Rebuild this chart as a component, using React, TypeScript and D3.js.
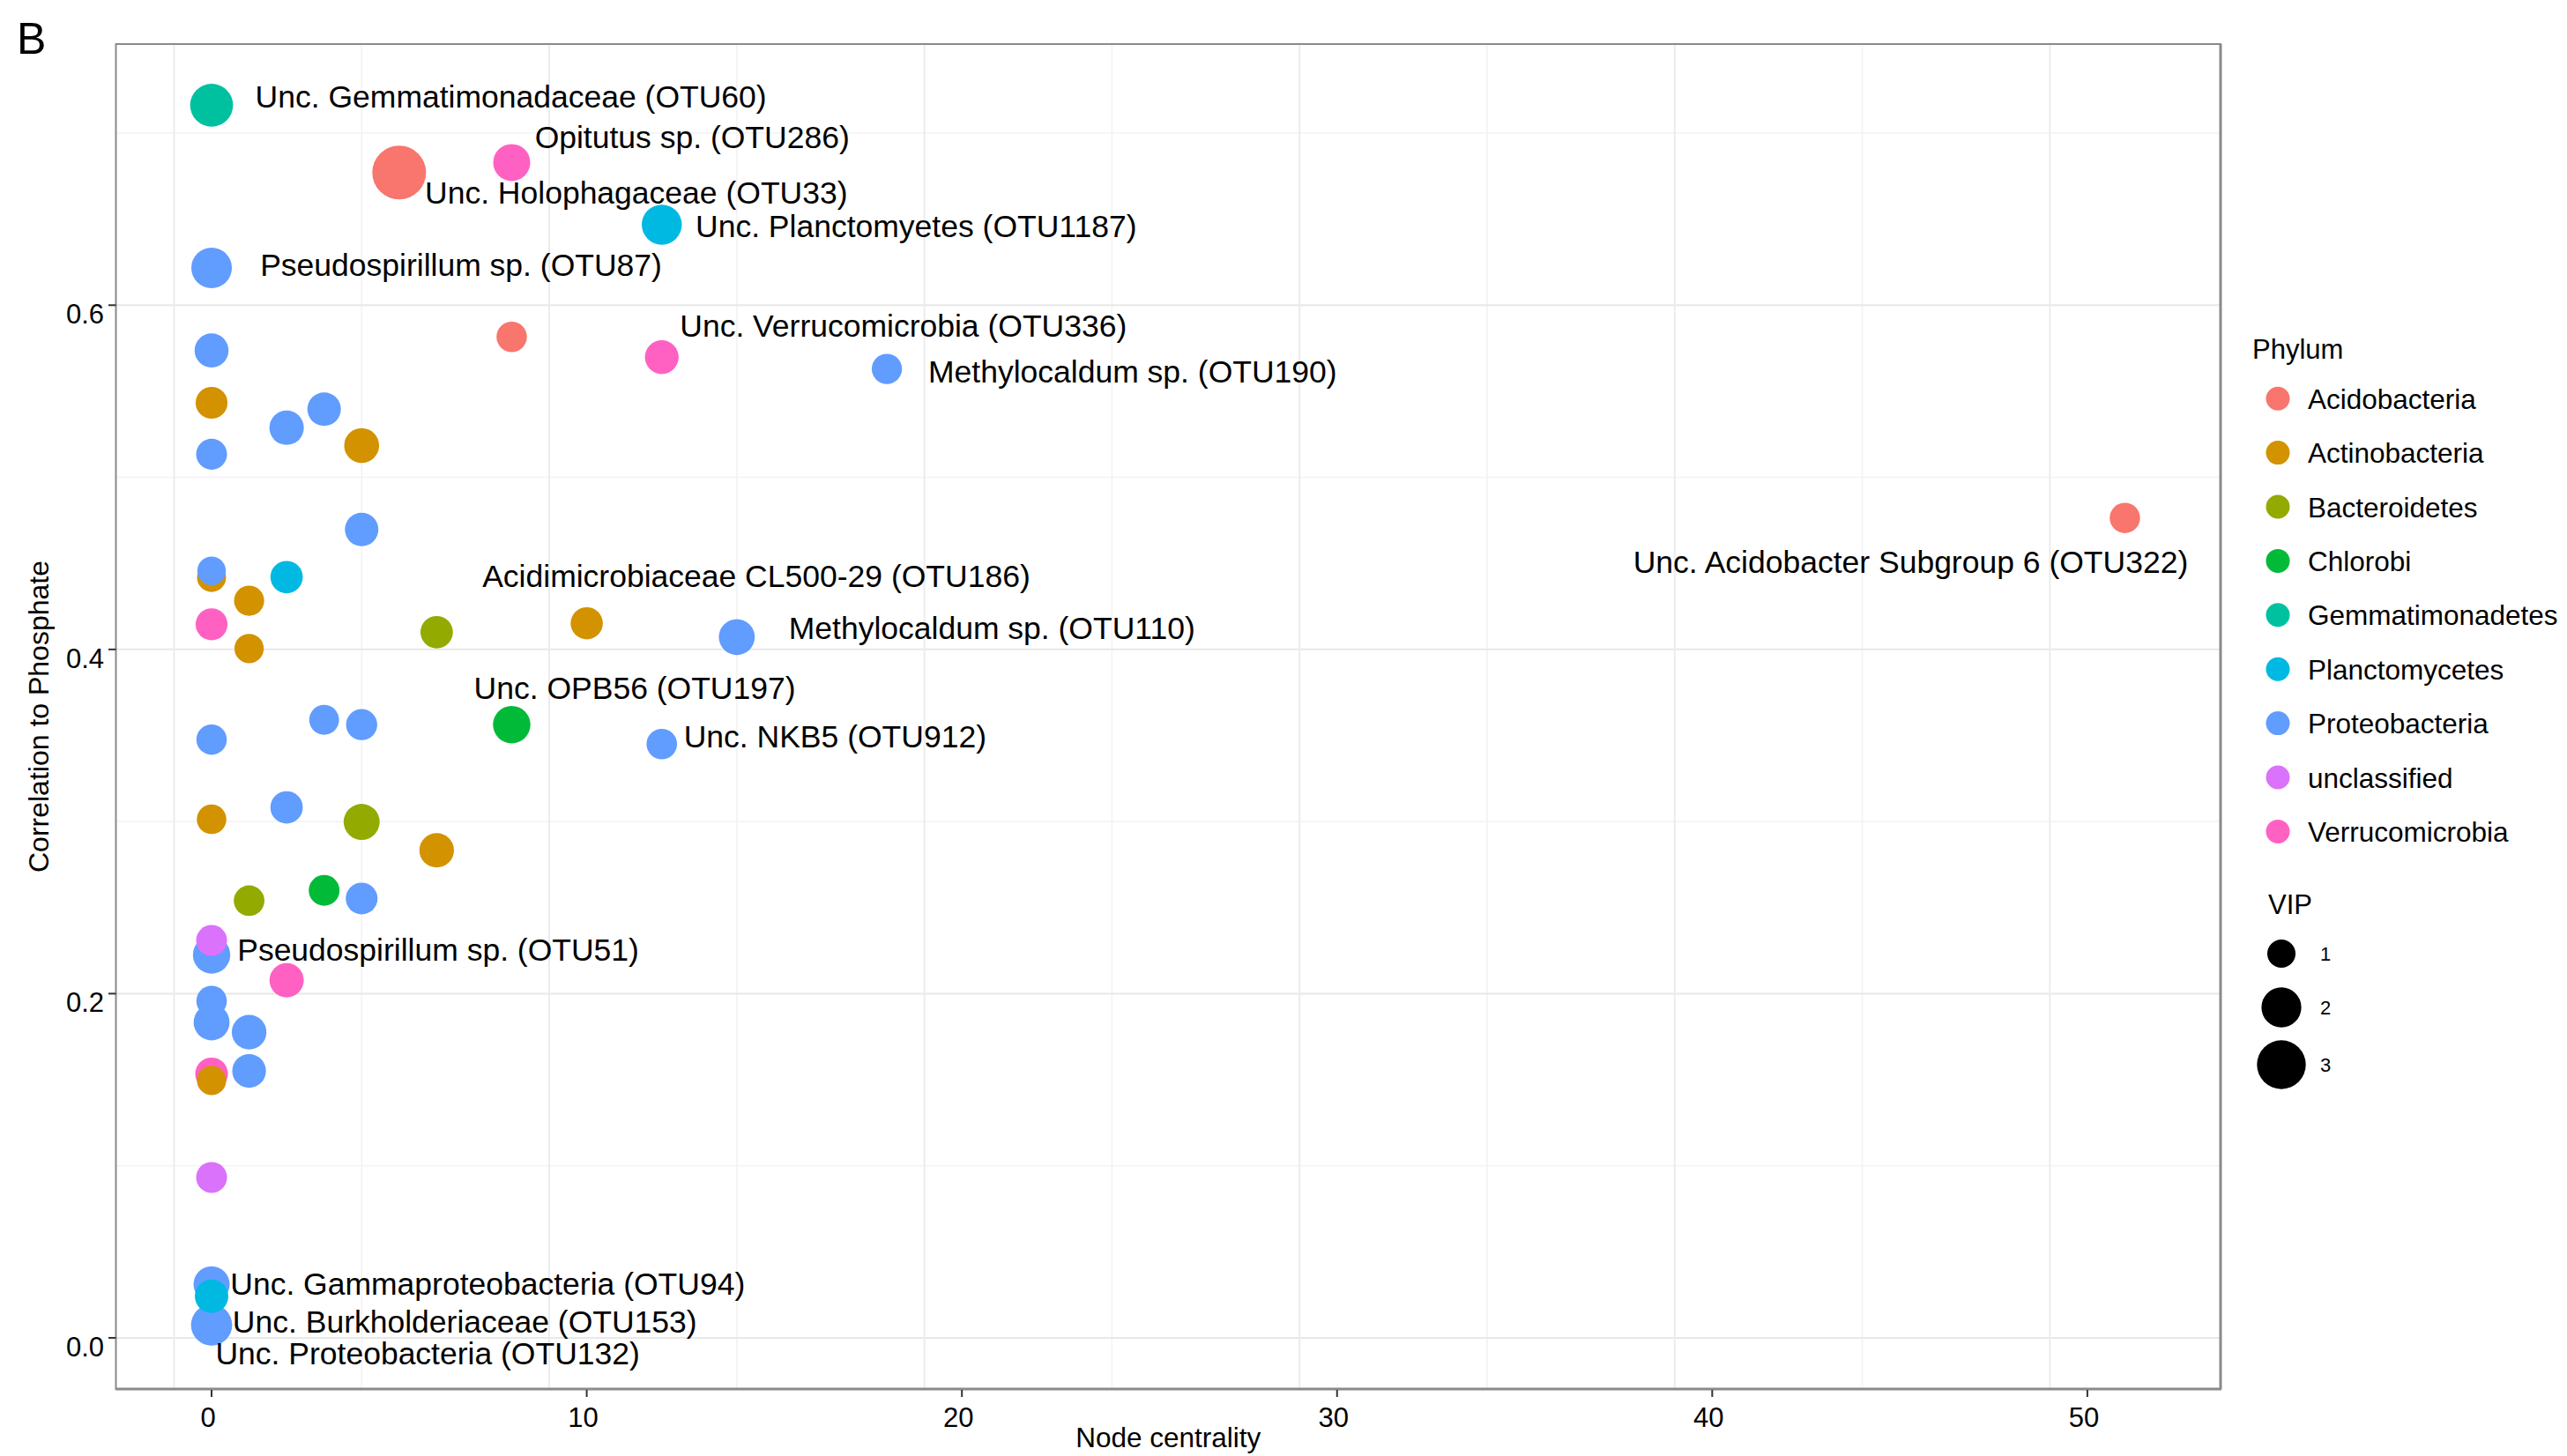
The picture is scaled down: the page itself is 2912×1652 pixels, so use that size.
import React from "react";
import * as d3 from "d3";

// ---- data -------------------------------------------------------------
const phyla = [
  "Acidobacteria",
  "Actinobacteria",
  "Bacteroidetes",
  "Chlorobi",
  "Gemmatimonadetes",
  "Planctomycetes",
  "Proteobacteria",
  "unclassified",
  "Verrucomicrobia",
];
const phylumColors = [
  "#F8766D", "#D39200", "#93AA00", "#00BA38", "#00C19F",
  "#00B9E3", "#619CFF", "#DB72FB", "#FF61C3",
];

// one entry per OTU, in drawing order
const otuLabel = [
  "Unc. Gemmatimonadaceae (OTU60)", "Unc. Holophagaceae (OTU33)", "Opitutus sp. (OTU286)",
  "Unc. Planctomyetes (OTU1187)", "Pseudospirillum sp. (OTU87)", "",
  "Unc. Verrucomicrobia (OTU336)", "Methylocaldum sp. (OTU190)", "", "", "", "", "", "", "",
  "Unc. Acidobacter Subgroup 6 (OTU322)", "", "", "", "", "", "", "",
  "Acidimicrobiaceae CL500-29 (OTU186)", "Methylocaldum sp. (OTU110)", "Unc. OPB56 (OTU197)",
  "Unc. NKB5 (OTU912)", "", "", "", "", "", "", "", "", "", "",
  "Pseudospirillum sp. (OTU51)", "", "", "", "", "", "", "", "", "",
  "Unc. Gammaproteobacteria (OTU94)", "Unc. Proteobacteria (OTU132)",
  "Unc. Burkholderiaceae (OTU153)", "",
];
const centrality = [
  0, 5, 8, 12, 0, 8, 12, 18, 0, 0, 2, 3, 4, 0, 4,
  51, 0, 0, 2, 1, 0, 1, 6,
  10, 14, 8,
  12, 3, 4, 0, 0, 2, 4, 6, 1, 3, 4,
  0, 0, 2, 0, 0, 1, 0, 0, 1, 0,
  0, 0,
  0, 0,
];
const correlation = [
  0.7162, 0.6771, 0.6829, 0.6468, 0.6217, 0.5816, 0.5698, 0.563, 0.5737, 0.5433, 0.5288, 0.5396, 0.5185, 0.5134, 0.4697,
  0.4764, 0.4418, 0.4456, 0.442, 0.4283, 0.4146, 0.4005, 0.41,
  0.4152, 0.4072, 0.3563,
  0.345, 0.3591, 0.3563, 0.3476, 0.3013, 0.3082, 0.2998, 0.2833, 0.254, 0.26, 0.2553,
  0.2225, 0.2309, 0.2078, 0.1957, 0.1833, 0.1776, 0.1534, 0.1496, 0.1551, 0.0932,
  0.0311, 0.0058,
  0.0075, 0.0242,
];
const phylumOf = [
  "Gemmatimonadetes", "Acidobacteria", "Verrucomicrobia", "Planctomycetes", "Proteobacteria",
  "Acidobacteria", "Verrucomicrobia", "Proteobacteria", "Proteobacteria", "Actinobacteria",
  "Proteobacteria", "Proteobacteria", "Actinobacteria", "Proteobacteria", "Proteobacteria",
  "Acidobacteria", "Actinobacteria", "Proteobacteria", "Planctomycetes", "Actinobacteria",
  "Verrucomicrobia", "Actinobacteria", "Bacteroidetes",
  "Actinobacteria", "Proteobacteria", "Chlorobi",
  "Proteobacteria", "Proteobacteria", "Proteobacteria", "Proteobacteria", "Actinobacteria",
  "Proteobacteria", "Bacteroidetes", "Actinobacteria", "Bacteroidetes", "Chlorobi", "Proteobacteria",
  "Proteobacteria", "unclassified", "Verrucomicrobia", "Proteobacteria", "Proteobacteria",
  "Proteobacteria", "Verrucomicrobia", "Actinobacteria", "Proteobacteria", "unclassified",
  "Proteobacteria", "Proteobacteria",
  "Proteobacteria", "Planctomycetes",
];
const vip = [
  2.31, 3.63, 1.72, 2.02, 2.07, 1.16, 1.43, 1.15, 1.45, 1.28, 1.49, 1.41, 1.53, 1.2, 1.41,
  1.16, 1.06, 1.03, 1.32, 1.14, 1.28, 1.08, 1.32,
  1.3, 1.62, 1.76,
  1.17, 1.12, 1.22, 1.16, 1.1, 1.32, 1.63, 1.5, 1.18, 1.19, 1.27,
  1.75, 1.2, 1.48, 1.17, 1.62, 1.51, 1.34, 1.08, 1.43, 1.2,
  1.64, 1.5,
  2.13, 1.41,
];

// repelled label spots (data units: label centre x, text baseline y)
const labelSpotX: Record<string, number> = {
  "Unc. Gemmatimonadaceae (OTU60)": 7.98,
  "Unc. Holophagaceae (OTU33)": 11.32,
  "Opitutus sp. (OTU286)": 12.81,
  "Unc. Planctomyetes (OTU1187)": 18.78,
  "Pseudospirillum sp. (OTU87)": 6.65,
  "Unc. Verrucomicrobia (OTU336)": 18.44,
  "Methylocaldum sp. (OTU190)": 24.55,
  "Unc. Acidobacter Subgroup 6 (OTU322)": 45.29,
  "Acidimicrobiaceae CL500-29 (OTU186)": 14.52,
  "Methylocaldum sp. (OTU110)": 20.8,
  "Unc. OPB56 (OTU197)": 11.28,
  "Unc. NKB5 (OTU912)": 16.62,
  "Pseudospirillum sp. (OTU51)": 6.04,
  "Unc. Gammaproteobacteria (OTU94)": 7.36,
  "Unc. Burkholderiaceae (OTU153)": 6.75,
  "Unc. Proteobacteria (OTU132)": 5.76,
};
const labelSpotY: Record<string, number> = {
  "Unc. Gemmatimonadaceae (OTU60)": 0.7146,
  "Unc. Holophagaceae (OTU33)": 0.6592,
  "Opitutus sp. (OTU286)": 0.6915,
  "Unc. Planctomyetes (OTU1187)": 0.6394,
  "Pseudospirillum sp. (OTU87)": 0.6169,
  "Unc. Verrucomicrobia (OTU336)": 0.5818,
  "Methylocaldum sp. (OTU190)": 0.5551,
  "Unc. Acidobacter Subgroup 6 (OTU322)": 0.4447,
  "Acidimicrobiaceae CL500-29 (OTU186)": 0.4361,
  "Methylocaldum sp. (OTU110)": 0.4059,
  "Unc. OPB56 (OTU197)": 0.3711,
  "Unc. NKB5 (OTU912)": 0.3433,
  "Pseudospirillum sp. (OTU51)": 0.2191,
  "Unc. Gammaproteobacteria (OTU94)": 0.0251,
  "Unc. Burkholderiaceae (OTU153)": 0.0031,
  "Unc. Proteobacteria (OTU132)": -0.0154,
};

const xTicks = [0, 10, 20, 30, 40, 50];
const xMinor = [5, 15, 25, 35, 45];
const yTicks = [0, 0.2, 0.4, 0.6];
const yMinor = [0.1, 0.3, 0.5, 0.7];
const vipBreaks = [1, 2, 3];

// ---- layout -------------------------------------------------------------
const W = 2912;
const H = 1652;
const panel = { left: 131.5, right: 2519, top: 50, bottom: 1576 };
const FONT = "'Liberation Sans', Arial, Helvetica, sans-serif";

function expand(ext: [number, number], f = 0.05): [number, number] {
  const pad = (ext[1] - ext[0]) * f;
  return [ext[0] - pad, ext[1] + pad];
}

export default function App() {
  const x = d3
    .scaleLinear()
    .domain(expand(d3.extent(centrality) as [number, number]))
    .range([panel.left, panel.right]);
  const y = d3
    .scaleLinear()
    .domain(expand(d3.extent(correlation) as [number, number]))
    .range([panel.bottom, panel.top]);
  const r = d3.scaleSqrt().domain([0, 1]).range([0, 16]);
  const color = d3.scaleOrdinal<string, string>().domain(phyla).range(phylumColors);

  // vertical grid sits one unit to the left of the tick marks
  const gridShift = x(0) - x(1);

  const points = centrality.map((c, i) => ({
    cx: x(c),
    cy: y(correlation[i]),
    r: r(vip[i]),
    fill: color(phylumOf[i]),
    label: otuLabel[i],
  }));

  // VIP legend keys stacked by their height
  const vipKeys: { v: number; cy: number }[] = [];
  let yCursor = 1082 - 30.5;
  vipBreaks.forEach((v) => {
    const h = Math.max(61, 2 * r(v) + 13.6);
    vipKeys.push({ v, cy: yCursor + h / 2 });
    yCursor += h;
  });

  return (
    <svg
      width={W}
      height={H}
      style={{ position: "absolute", left: 0, top: 0, background: "#fff" }}
      fontFamily={FONT}
    >
      <rect x={0} y={0} width={W} height={H} fill="#fff" />

      {/* panel grid */}
      <g>
        {yMinor.map((t) => (
          <line key={"ym" + t} x1={panel.left} x2={panel.right} y1={y(t)} y2={y(t)} stroke="#f3f3f3" strokeWidth={1.6} />
        ))}
        {xMinor.map((t) => (
          <line key={"xm" + t} x1={x(t) + gridShift} x2={x(t) + gridShift} y1={panel.top} y2={panel.bottom} stroke="#f3f3f3" strokeWidth={1.6} />
        ))}
        {yTicks.map((t) => (
          <line key={"yg" + t} x1={panel.left} x2={panel.right} y1={y(t)} y2={y(t)} stroke="#e8e8e8" strokeWidth={2} />
        ))}
        {xTicks.map((t) => (
          <line key={"xg" + t} x1={x(t) + gridShift} x2={x(t) + gridShift} y1={panel.top} y2={panel.bottom} stroke="#ececec" strokeWidth={2} />
        ))}
      </g>

      {/* points */}
      <g>
        {points.map((p, i) => (
          <circle key={i} cx={p.cx} cy={p.cy} r={p.r} fill={p.fill} />
        ))}
      </g>

      {/* labels */}
      <g fontSize={35.5} fill="#000" textAnchor="middle">
        {points
          .filter((p) => p.label)
          .map((p) => (
            <text key={p.label} x={x(labelSpotX[p.label])} y={y(labelSpotY[p.label])}>
              {p.label}
            </text>
          ))}
      </g>

      {/* panel border */}
      <rect
        x={panel.left}
        y={panel.top}
        width={panel.right - panel.left}
        height={panel.bottom - panel.top}
        fill="none"
        stroke="#8a8a8a"
        strokeWidth={2}
      />
      <line x1={panel.left} x2={panel.right + 1} y1={panel.bottom} y2={panel.bottom} stroke="#8a8a8a" strokeWidth={3} />
      <line x1={panel.right} x2={panel.right} y1={panel.top} y2={panel.bottom} stroke="#8a8a8a" strokeWidth={3} />

      {/* x axis */}
      <g fontSize={31} fill="#000" textAnchor="middle">
        {xTicks.map((t) => (
          <g key={"xt" + t}>
            <line x1={x(t)} x2={x(t)} y1={panel.bottom + 1} y2={panel.bottom + 9} stroke="#333" strokeWidth={2} />
            <text x={x(t) - 4} y={1619}>
              {t}
            </text>
          </g>
        ))}
        <text x={(panel.left + panel.right) / 2} y={1642} fontSize={31.5}>
          Node centrality
        </text>
      </g>

      {/* y axis */}
      <g fontSize={31} fill="#000" textAnchor="end">
        {yTicks.map((t) => (
          <g key={"yt" + t}>
            <line x1={panel.left - 8.5} x2={panel.left} y1={y(t)} y2={y(t)} stroke="#333" strokeWidth={2} />
            <text x={118} y={y(t) + 21}>
              {d3.format(".1f")(t)}
            </text>
          </g>
        ))}
        <text
          transform={`translate(55,${(panel.top + panel.bottom) / 2}) rotate(-90)`}
          textAnchor="middle"
          fontSize={32}
        >
          Correlation to Phosphate
        </text>
      </g>

      {/* panel tag */}
      <text x={19} y={61} fontSize={50} fill="#000">
        B
      </text>

      {/* Phylum legend */}
      <g fill="#000">
        <text x={2555} y={407} fontSize={31}>
          Phylum
        </text>
        {phyla.map((ph, i) => {
          const cy = 452.2 + i * 61.4;
          return (
            <g key={ph}>
              <circle cx={2584} cy={cy} r={13.5} fill={color(ph)} />
              <text x={2618} y={cy + 11.5} fontSize={31.5}>
                {ph}
              </text>
            </g>
          );
        })}
      </g>

      {/* VIP legend */}
      <g fill="#000">
        <text x={2573} y={1037} fontSize={31}>
          VIP
        </text>
        {vipKeys.map((k) => (
          <g key={"vip" + k.v}>
            <circle cx={2588} cy={k.cy} r={r(k.v)} fill="#000" />
            <text x={2632} y={k.cy + 8} fontSize={22}>
              {k.v}
            </text>
          </g>
        ))}
      </g>
    </svg>
  );
}
